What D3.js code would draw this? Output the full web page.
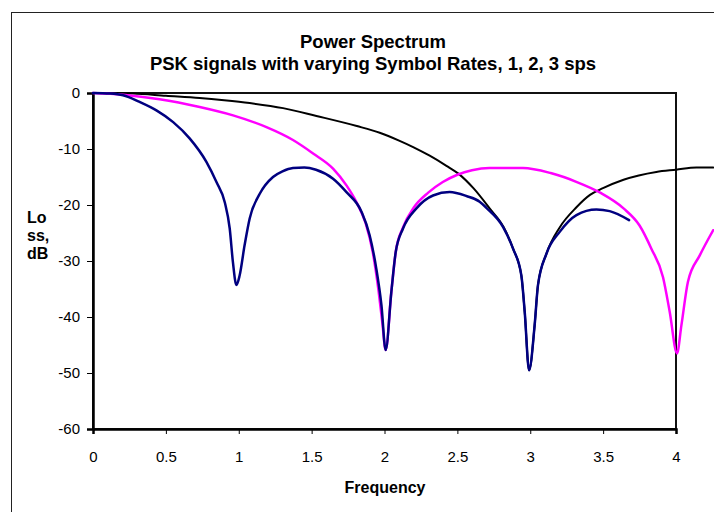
<!DOCTYPE html>
<meta charset="utf-8">
<style>
body { margin: 0; background: #fff; }
svg text { font-family: Arial, "Liberation Sans", sans-serif; fill: #000; }
.tick text { font-size: 15px; }
.tick line, .domain { stroke: #000; }
.title { font-size: 18.5px; font-weight: bold; }
.axis-title { font-size: 16px; font-weight: bold; }
.series { fill: none; stroke-linejoin: round; stroke-linecap: round; }
</style>
<body>
<svg width="714" height="512"></svg>
<script src="https://d3js.org/d3.v7.min.js"></script>
<script>

// chart text
var titleLines = ["Power Spectrum", "PSK signals with varying Symbol Rates, 1, 2, 3 sps"];
var xTitle = "Frequency";
var yTitleLines = ["Lo", "ss,", "dB"];

// axis ticks
var xTicks = [0, 0.5, 1, 1.5, 2, 2.5, 3, 3.5, 4];
var yTicks = [0, -10, -20, -30, -40, -50, -60];

// 3 sps (black)
var blackFreq = [0, 0.274, 0.5, 0.732, 0.9, 1.075, 1.304, 1.533, 1.81, 1.967, 2.1, 2.2, 2.31, 2.425, 2.507, 2.61, 2.724, 2.816, 2.882, 2.939, 2.962, 2.992, 3.03, 3.053, 3.111, 3.202, 3.317, 3.41, 3.499, 3.64, 3.865, 4.0, 4.14, 4.255];
var blackLoss = [0, -0.1, -0.5, -0.9, -1.3, -1.8, -2.7, -4.1, -5.9, -7.1, -8.5, -9.7, -11.2, -13.0, -14.4, -17.0, -20.7, -23.9, -27.8, -32.6, -39.1, -49.5, -41.5, -34.3, -28.7, -24.0, -20.4, -18.2, -17.0, -15.5, -14.1, -13.7, -13.3, -13.3];

// 2 sps (magenta)
var magentaFreq = [0, 0.206, 0.457, 0.732, 0.961, 1.19, 1.372, 1.51, 1.647, 1.739, 1.81, 1.87, 1.92, 1.96, 1.985, 2.008, 2.047, 2.077, 2.127, 2.2, 2.3, 2.4, 2.5, 2.6, 2.72, 2.95, 3.14, 3.32, 3.48, 3.64, 3.751, 3.831, 3.911, 3.957, 4.007, 4.037, 4.082, 4.163, 4.255];
var magentaLoss = [0, -0.3, -1.1, -2.5, -4.0, -6.1, -8.4, -10.8, -13.5, -16.5, -19.6, -23.2, -28.5, -35.5, -41.0, -45.9, -35.5, -28.4, -24.0, -20.5, -17.8, -15.9, -14.6, -13.8, -13.4, -13.4, -14.3, -15.9, -17.8, -20.6, -23.7, -27.8, -32.9, -39.1, -46.5, -41.5, -33.7, -29.0, -24.5];

// 1 sps (navy)
var navyFreq = [0, 0.115, 0.206, 0.32, 0.435, 0.55, 0.663, 0.778, 0.847, 0.904, 0.938, 0.96, 0.984, 1.006, 1.04, 1.075, 1.144, 1.235, 1.3, 1.372, 1.45, 1.53, 1.647, 1.739, 1.842, 1.898, 1.944, 1.979, 2.008, 2.047, 2.077, 2.127, 2.219, 2.333, 2.447, 2.562, 2.653, 2.699, 2.813, 2.882, 2.939, 2.962, 2.992, 3.03, 3.053, 3.111, 3.202, 3.317, 3.454, 3.545, 3.678];
var navyLoss = [0, -0.1, -0.4, -1.6, -3.1, -5.2, -8.1, -12.3, -15.9, -19.5, -24.2, -30.2, -34.3, -32.6, -27.2, -22.4, -18.0, -15.0, -14.0, -13.4, -13.3, -13.7, -15.3, -17.7, -21.2, -25.4, -31.4, -37.9, -45.9, -35.5, -28.4, -24.2, -20.6, -18.3, -17.7, -18.4, -19.4, -20.5, -23.9, -27.8, -32.6, -39.1, -49.5, -41.5, -34.3, -28.7, -24.8, -21.8, -20.8, -21.1, -22.7];

var svg = d3.select("svg");

var plot = {left: 93, top: 93, right: 676, bottom: 429};

var x = d3.scaleLinear().domain([0, 4]).range([plot.left, plot.right]);
var y = d3.scaleLinear().domain([-60, 0]).range([plot.bottom, plot.top]);

// outer chart frame (runs off the right and bottom of the picture)
svg.append("rect")
    .attr("x", 11.5).attr("y", 12.5)
    .attr("width", 760).attr("height", 560)
    .attr("fill", "none")
    .attr("stroke", "#222")
    .attr("stroke-width", 1);

// title
svg.selectAll(".title")
    .data(titleLines)
  .enter().append("text")
    .attr("class", "title")
    .attr("x", 373)
    .attr("y", function(d, i) { return 48 + i * 22; })
    .attr("text-anchor", "middle")
    .text(function(d) { return d; });

// plot area border
svg.append("rect")
    .attr("x", plot.left).attr("y", plot.top)
    .attr("width", plot.right - plot.left)
    .attr("height", plot.bottom - plot.top)
    .attr("fill", "none")
    .attr("stroke", "#111")
    .attr("stroke-width", 2);

// axes (plain hyphen for the minus, as in the original)
var fmt = function(d) { return String(d); };

svg.append("g")
    .attr("transform", "translate(0," + plot.bottom + ")")
    .call(d3.axisBottom(x).tickValues(xTicks).tickSize(5).tickPadding(17).tickFormat(fmt))
    .call(function(g) { g.select(".domain").attr("stroke-width", 2.5); });

svg.append("g")
    .attr("transform", "translate(" + plot.left + ",0)")
    .call(d3.axisLeft(y).tickValues(yTicks).tickSize(6).tickPadding(7).tickFormat(fmt))
    .call(function(g) { g.select(".domain").attr("stroke-width", 2.5); });

// axis titles
svg.append("text")
    .attr("class", "axis-title")
    .attr("x", 385).attr("y", 493)
    .attr("text-anchor", "middle")
    .text(xTitle);

svg.selectAll(".ytitle")
    .data(yTitleLines)
  .enter().append("text")
    .attr("class", "axis-title")
    .attr("x", 27)
    .attr("y", function(d, i) { return 223 + i * 18; })
    .text(function(d) { return d; });

// series
var line = d3.line()
    .x(function(d) { return x(d[0]); })
    .y(function(d) { return y(d[1]); })
    .curve(d3.curveMonotoneX);

var series = [
  {freq: blackFreq, loss: blackLoss, color: "#000000", width: 2},
  {freq: magentaFreq, loss: magentaLoss, color: "#ff00ff", width: 2.5},
  {freq: navyFreq, loss: navyLoss, color: "#000080", width: 2.5}
];

series.forEach(function(s) {
  svg.append("path")
      .datum(d3.zip(s.freq, s.loss))
      .attr("class", "series")
      .attr("stroke", s.color)
      .attr("stroke-width", s.width)
      .attr("d", line);
});

</script>
</body>
